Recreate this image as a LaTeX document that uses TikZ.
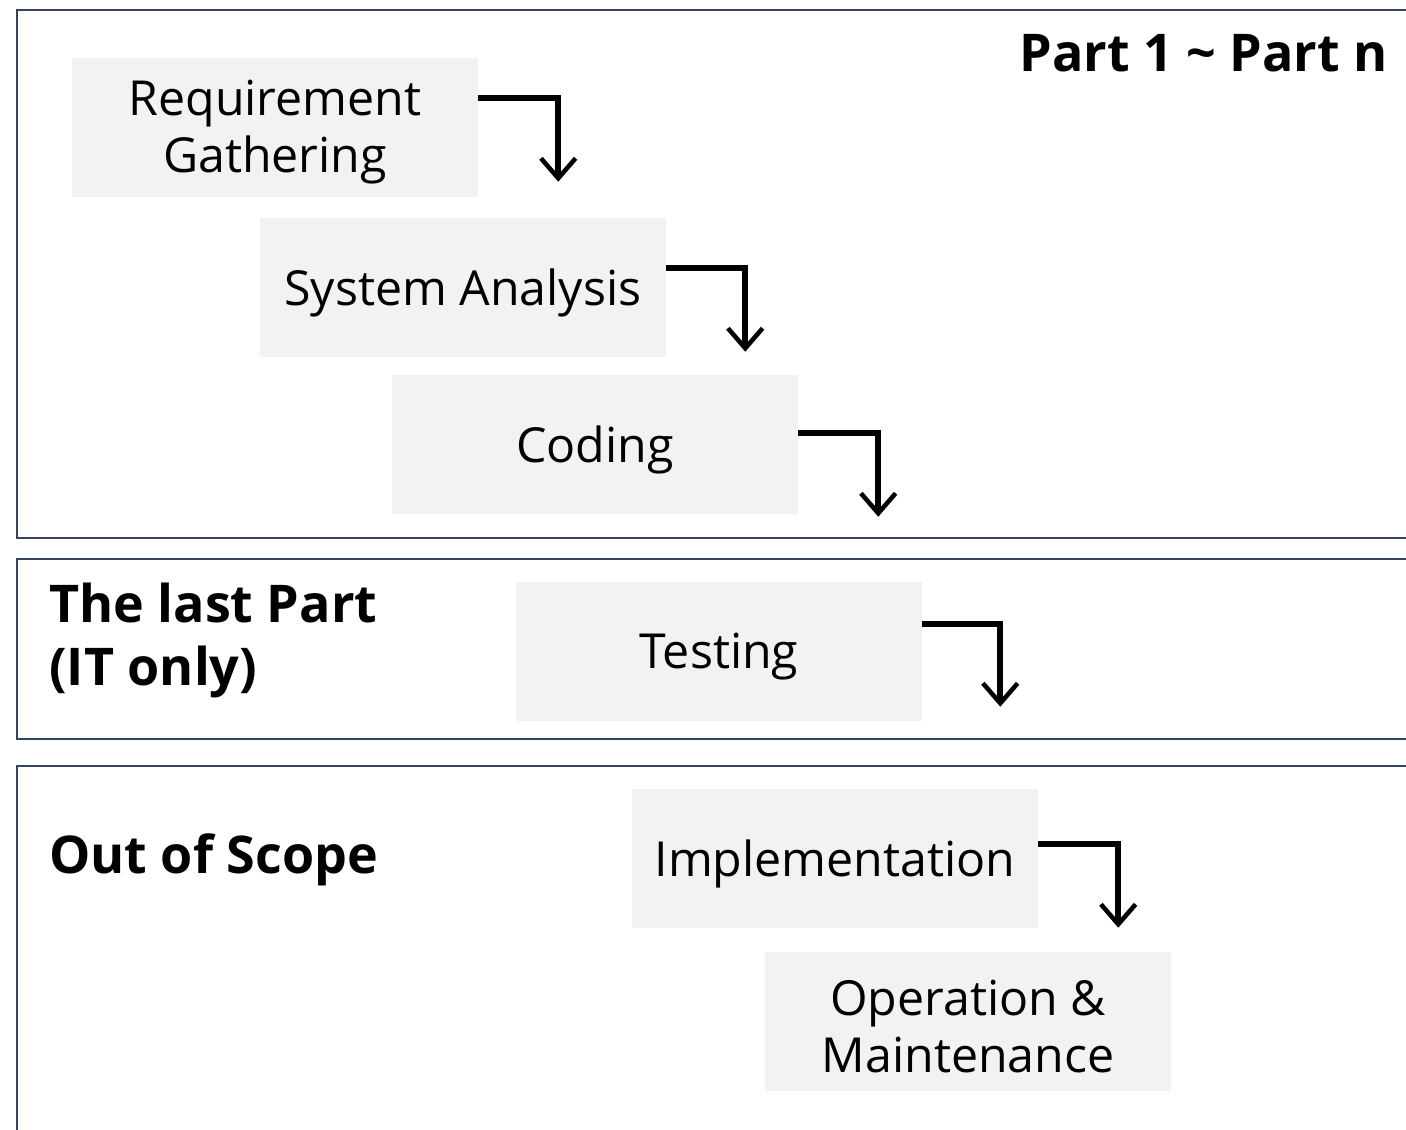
\documentclass[tikz,border=0pt]{standalone}
\usepackage{fontspec}
\setmainfont{Open Sans}
\usetikzlibrary{arrows.meta}
\definecolor{boxgray}{RGB}{242,242,242}
\definecolor{panelline}{RGB}{52,68,90}
\begin{document}
\begin{tikzpicture}[x=0.75pt,y=-0.75pt,
  stage/.style={fill=boxgray,draw=none,minimum width=406*0.75pt,minimum height=139*0.75pt,
    inner sep=0pt},
  stagetext/.style={inner sep=0pt,align=center,font=\fontsize{36.2}{42.75}\selectfont},
  flow/.style={line width=4.2pt,line join=miter,-{Straight Barb[length=15pt,width=26pt,line width=3.4pt]}},
  panel/.style={draw=panelline,line width=1.5pt},
  title/.style={inner sep=0pt,font=\bfseries\fontsize{39}{47.25}\selectfont,align=left}]
\useasboundingbox (0,0) rectangle (1406,1130);
% panels
\draw[panel] (1408,10) -- (17,10) -- (17,538) -- (1408,538);
\draw[panel] (1408,559) -- (17,559) -- (17,739) -- (1408,739);
\draw[panel] (1408,766) -- (17,766) -- (17,1132);
% titles
\node[title,anchor=base east] (t1) at (1388,72) {Part 1 \textasciitilde{} Part n};
\node[title,anchor=base west] (t2a) at (49,622) {The last Part};
\node[title,anchor=base west] (t2b) at (49,685) {(IT only)};
\node[title,anchor=base west] (t3) at (49,873) {Out of Scope};
% stages
\node[stage] (b1) at (275,127.5) {};
\node[stage] (b2) at (463,287.5) {};
\node[stage] (b3) at (595,444.5) {};
\node[stage] (b4) at (719,651.5) {};
\node[stage] (b5) at (835,858.5) {};
\node[stage] (b6) at (968,1021.5) {};
\node[stagetext] (b1t) at ([yshift=-5*0.75pt]b1.center) {Requirement\\Gathering};
\node[stagetext] (b2t) at ([yshift=-5*0.75pt]b2.center) {System Analysis};
\node[stagetext] (b3t) at ([yshift=-5*0.75pt]b3.center) {Coding};
\node[stagetext] (b4t) at ([yshift=-5*0.75pt]b4.center) {Testing};
\node[stagetext] (b5t) at ([yshift=-5*0.75pt]b5.center) {Implementation};
\node[stagetext] (b6t) at ([yshift=-5*0.75pt]b6.center) {Operation \&\\Maintenance};
% arrows
\draw[flow] ([yshift=-40*0.75pt]b1.north east) -| ++(80,84);
\draw[flow] ([yshift=-50*0.75pt]b2.north east) -| ++(79,84);
\draw[flow] ([yshift=-58*0.75pt]b3.north east) -| ++(80,84);
\draw[flow] ([yshift=-42*0.75pt]b4.north east) -| ++(78,83);
\draw[flow] ([yshift=-55*0.75pt]b5.north east) -| ++(80,84);
\end{tikzpicture}
\end{document}
